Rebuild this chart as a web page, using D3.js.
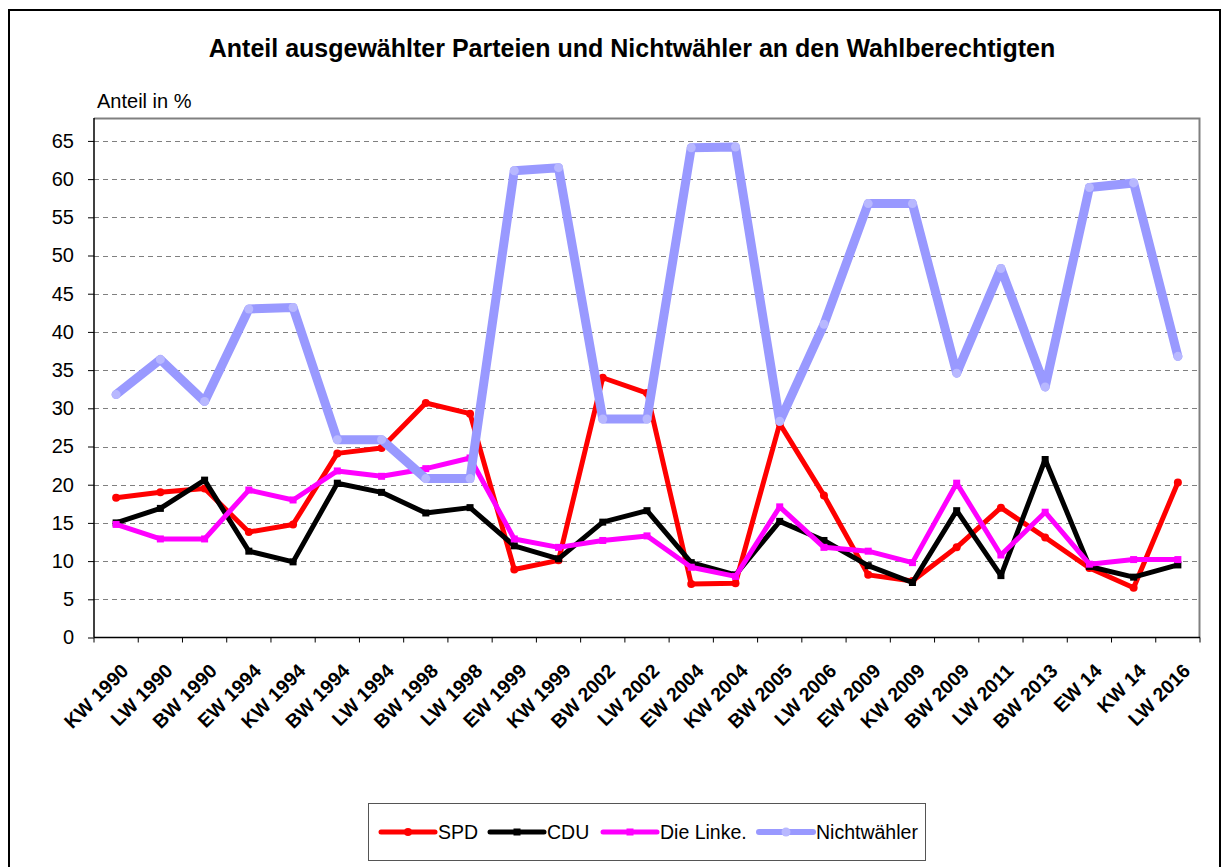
<!DOCTYPE html>
<html>
<head>
<meta charset="utf-8">
<script src="https://cdn.jsdelivr.net/npm/d3@7.9.0/dist/d3.min.js"></script>
<style>
  body { margin: 0; background: #fff; }
  svg { display: block; font-family: Arial, "Liberation Sans", sans-serif; }
</style>
</head>
<body>
<svg id="chart" width="1221" height="867"></svg>
<script>
// Wahlen (x axis)
const categories = ['KW 1990', 'LW 1990', 'BW 1990', 'EW 1994', 'KW 1994', 'BW 1994', 'LW 1994',
  'BW 1998', 'LW 1998', 'EW 1999', 'KW 1999', 'BW 2002', 'LW 2002', 'EW 2004', 'KW 2004',
  'BW 2005', 'LW 2006', 'EW 2009', 'KW 2009', 'BW 2009', 'LW 2011', 'BW 2013', 'EW 14',
  'KW 14', 'LW 2016'];

// Anteil in %
const spd = [18.3, 19.0, 19.5, 13.8, 14.8, 24.1, 24.8, 30.7, 29.3, 8.9, 10.1, 34.0, 32.0, 7.0, 7.1,
  28.0, 18.6, 8.2, 7.4, 11.8, 17.0, 13.1, 9.1, 6.5, 20.3];
const cdu = [15.0, 16.9, 20.6, 11.3, 9.9, 20.2, 19.0, 16.3, 17.0, 12.0, 10.3, 15.1, 16.6, 9.8, 8.2,
  15.2, 12.7, 9.4, 7.2, 16.6, 8.1, 23.3, 9.3, 7.9, 9.5];
const linke = [14.8, 12.9, 12.9, 19.3, 18.0, 21.8, 21.1, 22.1, 23.5, 12.9, 11.8, 12.7, 13.3, 9.2, 8.0,
  17.1, 11.8, 11.3, 9.8, 20.2, 10.8, 16.4, 9.6, 10.2, 10.2];
const nichtwaehler = [31.8, 36.4, 30.9, 43.0, 43.2, 25.9, 25.9, 20.8, 20.8, 61.1, 61.5, 28.6, 28.6, 64.1, 64.2,
  28.3, 41.0, 56.8, 56.8, 34.6, 48.3, 32.8, 58.9, 59.5, 36.8];

const yTicks = d3.range(0, 70, 5);

const series = [
  { name: 'SPD', values: spd, color: '#ff0000', width: 5, marker: 'circle', mcolor: '#ff0000', msize: 4 },
  { name: 'CDU', values: cdu, color: '#000000', width: 5, marker: 'square', mcolor: '#000000', msize: 7 },
  { name: 'Die Linke.', values: linke, color: '#ff00ff', width: 5, marker: 'square', mcolor: '#ff00ff', msize: 7 },
  { name: 'Nichtwähler', values: nichtwaehler, color: '#9999ff', width: 9, marker: 'circle', mcolor: '#b8b8ff', msize: 4.5 }
];

const svg = d3.select('#chart');

// outer frame
svg.append('rect')
  .attr('x', 9).attr('y', 10).attr('width', 1211).attr('height', 900)
  .attr('fill', 'none').attr('stroke', '#000').attr('stroke-width', 2);

const plot = { left: 94, right: 1200, top: 118, bottom: 637.5 };

const x = d3.scaleBand().domain(categories).range([plot.left, plot.right]);
const y = d3.scaleLinear().domain([0, 68]).range([plot.bottom, plot.top]);

// title
svg.append('text')
  .attr('x', 632).attr('y', 57)
  .attr('text-anchor', 'middle')
  .attr('font-size', 25).attr('font-weight', 'bold')
  .text('Anteil ausgewählter Parteien und Nichtwähler an den Wahlberechtigten');

svg.append('text')
  .attr('x', 97).attr('y', 108)
  .attr('font-size', 20)
  .text('Anteil in %');

// grid lines
svg.append('g')
  .selectAll('line')
  .data(yTicks.filter(d => d > 0))
  .join('line')
  .attr('x1', plot.left).attr('x2', plot.right)
  .attr('y1', d => Math.round(y(d)) + 0.5).attr('y2', d => Math.round(y(d)) + 0.5)
  .attr('stroke', '#808080').attr('stroke-dasharray', '5,4');

// plot border (top/right grey)
svg.append('path')
  .attr('d', `M${plot.left},${plot.top + 0.5}H${plot.right - 0.5}V${plot.bottom}`)
  .attr('fill', 'none').attr('stroke', '#808080').attr('stroke-width', 2);

// y axis
const yAxis = svg.append('g')
  .attr('transform', `translate(${plot.left},0)`)
  .call(d3.axisLeft(y).tickValues(yTicks).tickSize(6).tickPadding(14).tickFormat(d3.format('d')));
yAxis.selectAll('text').attr('font-size', 20).attr('fill', '#000').attr('font-family', 'Arial, "Liberation Sans", sans-serif');
yAxis.selectAll('line').attr('stroke', '#000');
yAxis.select('.domain').attr('stroke', '#000').attr('stroke-width', 1.5)
  .attr('d', `M0,${plot.top}V${plot.bottom}`);

// x axis: ticks at the category boundaries
const xg = svg.append('g');
xg.append('line')
  .attr('x1', plot.left).attr('x2', plot.right)
  .attr('y1', plot.bottom).attr('y2', plot.bottom)
  .attr('stroke', '#000').attr('stroke-width', 1.5);
xg.selectAll('.tick')
  .data(categories.concat(['__end']))
  .join('line')
  .attr('x1', (d, i) => plot.left + i * x.bandwidth())
  .attr('x2', (d, i) => plot.left + i * x.bandwidth())
  .attr('y1', plot.bottom).attr('y2', plot.bottom + 5)
  .attr('stroke', '#000');
xg.selectAll('text')
  .data(categories)
  .join('text')
  .attr('transform', d => `translate(${x(d) + x.bandwidth() / 2 + 4},${plot.bottom + 25}) rotate(-45)`)
  .attr('text-anchor', 'end')
  .attr('dy', '0.7em')
  .attr('font-size', 19.5).attr('font-weight', 'bold')
  .text(d => d);

// lines
const line = d3.line()
  .x((d, i) => x(categories[i]) + x.bandwidth() / 2)
  .y(d => y(d));

function drawMarker(g, s, cx, cy) {
  if (s.marker === 'circle') {
    g.append('circle').attr('cx', cx).attr('cy', cy).attr('r', s.msize).attr('fill', s.mcolor);
  } else {
    g.append('rect').attr('x', cx - s.msize / 2).attr('y', cy - s.msize / 2)
      .attr('width', s.msize).attr('height', s.msize).attr('fill', s.mcolor);
  }
}

series.forEach(s => {
  const g = svg.append('g');
  g.append('path')
    .attr('d', line(s.values))
    .attr('fill', 'none')
    .attr('stroke', s.color)
    .attr('stroke-width', s.width)
    .attr('stroke-linejoin', 'round')
    .attr('stroke-linecap', 'round');
  s.values.forEach((v, i) => {
    drawMarker(g, s, x(categories[i]) + x.bandwidth() / 2, y(v));
  });
});

// legend
const legend = svg.append('g');
legend.append('rect')
  .attr('x', 368.5).attr('y', 803.5).attr('width', 557).attr('height', 57)
  .attr('fill', '#fff').attr('stroke', '#555');
const legendX = [381, 490, 603, 759];
series.forEach((s, i) => {
  const lx = legendX[i];
  legend.append('line')
    .attr('x1', lx).attr('x2', lx + 54)
    .attr('y1', 832).attr('y2', 832)
    .attr('stroke', s.color).attr('stroke-width', Math.min(s.width, 6))
    .attr('stroke-linecap', 'round');
  drawMarker(legend, s, lx + 27, 832);
  legend.append('text')
    .attr('x', lx + 57).attr('y', 839)
    .attr('font-size', 19.5)
    .text(s.name);
});
</script>
</body>
</html>
